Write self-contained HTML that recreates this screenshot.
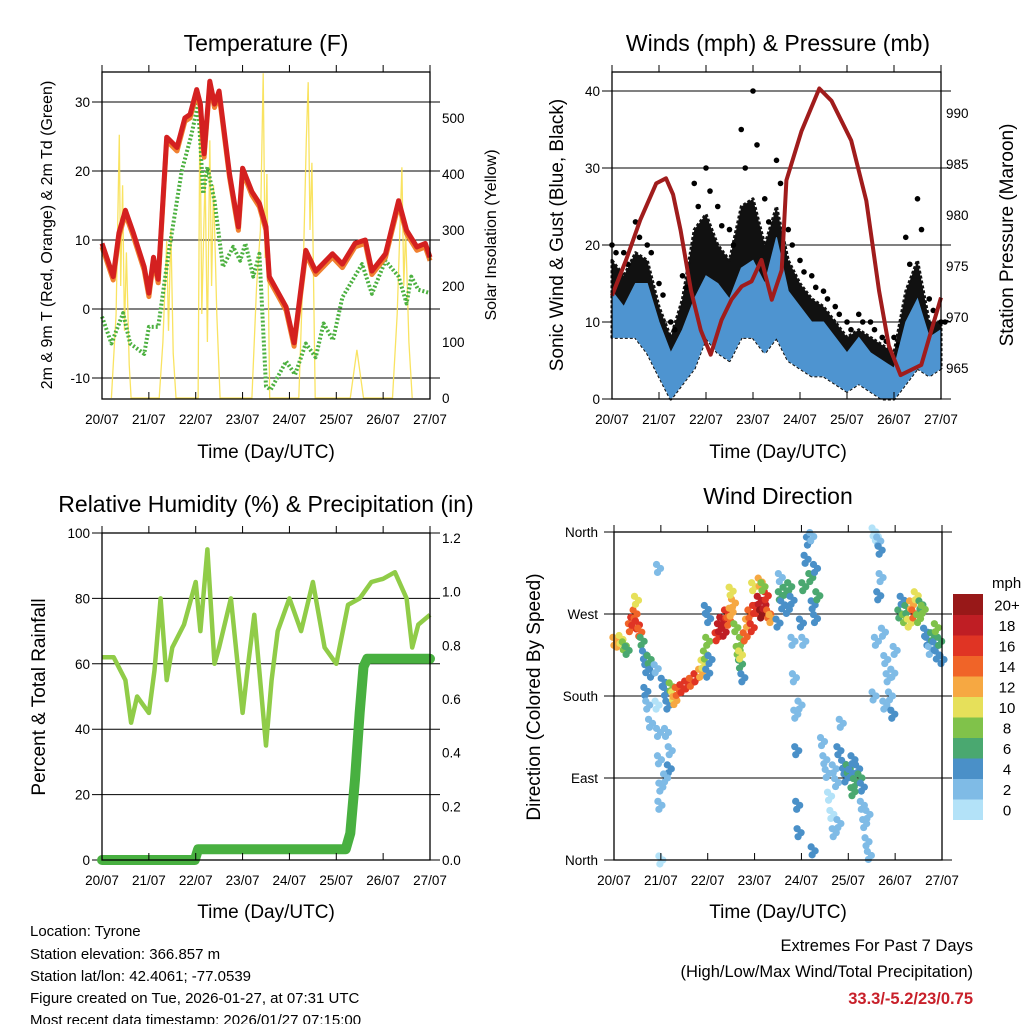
<!DOCTYPE html>
<html><head><meta charset="utf-8">
<style>
body{margin:0;background:#fff;}
svg{display:block;font-family:"Liberation Sans",Arial,sans-serif;}
.t{font-size:23px;text-anchor:middle;}
.al{font-size:19px;text-anchor:middle;}
.tk{font-size:13.5px;}
.info{font-size:15px;}
</style></head>
<body>
<svg id="s" width="1024" height="1024" viewBox="0 0 1024 1024">
<text class="t" x="266" y="51">Temperature (F)</text>
<text class="t" x="778" y="51">Winds (mph) &amp; Pressure (mb)</text>
<text class="t" x="266" y="512">Relative Humidity (%) &amp; Precipitation (in)</text>
<text class="t" x="778" y="504">Wind Direction</text>
<text class="al" x="266" y="458">Time (Day/UTC)</text>
<text class="al" x="778" y="458">Time (Day/UTC)</text>
<text class="al" x="266" y="918">Time (Day/UTC)</text>
<text class="al" x="778" y="918">Time (Day/UTC)</text>
<text class="al" style="font-size:16px" transform="translate(52,235) rotate(-90)">2m &amp; 9m T (Red, Orange) &amp; 2m Td (Green)</text>
<text class="al" style="font-size:16px" transform="translate(496,235) rotate(-90)">Solar Insolation (Yellow)</text>
<text class="al" transform="translate(563,235) rotate(-90)">Sonic Wind &amp; Gust (Blue, Black)</text>
<text class="al" transform="translate(1013,235) rotate(-90)">Station Pressure (Maroon)</text>
<text class="al" transform="translate(45,697) rotate(-90)">Percent &amp; Total Rainfall</text>
<text class="al" transform="translate(540,697) rotate(-90)">Direction (Colored By Speed)</text>
<g class="info">
<text x="30" y="936">Location: Tyrone</text>
<text x="30" y="959">Station elevation: 366.857 m</text>
<text x="30" y="981">Station lat/lon: 42.4061; -77.0539</text>
<text x="30" y="1003">Figure created on Tue, 2026-01-27, at 07:31 UTC</text>
<text x="30" y="1025">Most recent data timestamp: 2026/01/27 07:15:00</text>
</g>
<g style="font-size:16.5px;text-anchor:end">
<text x="973" y="951">Extremes For Past 7 Days</text>
<text x="973" y="977">(High/Low/Max Wind/Total Precipitation)</text>
<text x="973" y="1004" style="fill:#c8202a;font-weight:bold">33.3/-5.2/23/0.75</text>
</g>
</svg>
<script>
// ---------- DATA ----------
const dayLabels=["20/07","21/07","22/07","23/07","24/07","25/07","26/07","27/07"];
const tempTicks=[-10,0,10,20,30];
const solarTicks=[0,100,200,300,400,500];
const windTicks=[0,10,20,30,40];
const presTicks=[965,970,975,980,985,990];
const rhTicks=[0,20,40,60,80,100];
const rainTicks=[0,0.2,0.4,0.6,0.8,1.0,1.2];
const dirLabels=["North","East","South","West","North"];
const dirTicks=[0,90,180,270,360];
const speedLabels=["0","2","4","6","8","10","12","14","16","18","20+"];
const speedColors=["#b3e2f8","#7fbbe6","#4a90c8","#4aa870","#80c24a","#e6e05a","#f6a842","#f06428","#e03424","#bf1e24","#981818"];

const tempT=[0,0.24,0.36,0.5,0.67,0.9,1.0,1.1,1.2,1.38,1.6,1.77,1.88,2.02,2.1,2.18,2.3,2.4,2.5,2.72,2.91,3.0,3.2,3.36,3.5,3.57,3.93,4.1,4.35,4.56,4.92,5.13,5.4,5.62,5.76,6.05,6.33,6.5,6.72,6.9,7.0];
const tempV=[9.5,4.7,11,14.3,11,6.1,2.3,7.5,4.3,24.9,23.4,27.7,28.2,31.8,29.7,22.5,33,29.7,31.6,19.6,11.9,20.4,17,15.3,11.9,4.7,0.3,-4.9,8.5,5.5,8,6.5,9.5,10,5.5,8,15.7,11.4,9,9.5,7.5];
const dewT=[0,0.2,0.45,0.6,0.9,1.0,1.2,1.42,1.7,1.9,2.05,2.16,2.25,2.4,2.58,2.8,2.95,3.06,3.23,3.36,3.5,3.6,3.93,4.12,4.35,4.56,4.73,4.93,5.13,5.55,5.76,6.05,6.33,6.5,6.6,6.75,7.0];
const dewV=[-1.1,-5,-0.6,-5,-6.5,-2.6,-2.6,8,20,25,29.7,16.7,20.6,15.7,6.1,9,7,9.5,4.7,8,-11.2,-11.7,-7.6,-9.5,-5,-7,-2.1,-4.5,1.7,6.5,2.2,7,4.7,0.8,4.7,2.8,2.3];
const solarT=[0.2,0.3,0.37,0.4,0.44,0.48,0.52,0.58,0.62,1.22,1.3,1.38,1.42,1.47,1.52,1.58,2.05,2.09,2.13,2.2,2.25,2.3,2.34,2.38,2.45,2.52,3.2,3.3,3.38,3.44,3.48,3.52,3.58,4.2,4.3,4.36,4.4,4.44,4.48,4.55,5.3,5.44,5.58,6.2,6.3,6.4,6.44,6.48,6.55,6.62];
const solarV=[0,150,470,200,380,120,260,60,0,0,100,280,120,300,80,0,0,527,150,400,100,460,200,380,150,0,0,200,300,580,250,400,0,0,250,460,564,300,420,0,0,86,0,0,150,412,200,300,100,0];

const windT=[0,0.25,0.5,0.75,1,1.25,1.5,1.75,2,2.25,2.5,2.75,3,3.25,3.5,3.75,4,4.25,4.5,4.75,5,5.25,5.5,5.75,6,6.25,6.5,6.75,7];
const windHi=[14,12,15,15,10,6,9,13,16,15,13,17,18,15,21,14,12,10,10,8,6,8,6,5,4,10,13,8,9];
const windLo=[8,8,8,6,3,0,2,4,8,6,5,8,8,6,8,5,4,3,3,2,1,2,1,0,0,2,4,3,4];
const gustTyp=[18,16,19,18,12,8,13,22,24,20,18,25,26,20,25,18,15,13,12,10,8,9,8,7,6,14,18,10,10];
const gustV=[20,19,23,20,15,10,16,28,30,25,22,35,40,26,31,22,18,16,14,12,10,11,10,8,8,21,26,13,10];
const presT=[0,0.3,0.6,0.94,1.15,1.3,1.46,1.68,1.89,2.1,2.33,2.54,2.76,2.97,3.18,3.4,3.61,3.71,4.03,4.41,4.67,5.09,5.41,5.68,5.89,6.14,6.36,6.58,6.79,7.0];
const presV=[972.1,975.6,979.5,983.1,983.6,982,978.5,972.6,968.7,966.3,969.7,971.7,973,973.5,975.6,971.7,974.6,983.4,988.2,992.4,991.2,987.3,981.4,972.6,967.2,964.3,964.8,965.3,968.6,971.9];

const rhT=[0,0.25,0.5,0.62,0.75,1.0,1.12,1.25,1.38,1.5,1.75,2.0,2.1,2.25,2.4,2.5,2.75,3.0,3.12,3.25,3.5,3.62,3.75,4.0,4.25,4.5,4.75,5.0,5.25,5.5,5.75,6.0,6.25,6.5,6.62,6.75,7.0];
const rhV=[62,62,55,42,50,45,58,80,55,65,72,85,70,95,60,65,80,45,60,75,35,55,70,80,70,85,65,60,78,80,85,86,88,80,65,72,75];
const rainT=[0,1.98,2.05,5.2,5.3,5.4,5.5,5.58,5.66,7.0];
const rainV=[0,0,0.04,0.04,0.1,0.3,0.55,0.72,0.75,0.75];

const dirT=[0.02,0.08,0.15,0.22,0.28,0.35,0.4,0.45,0.5,0.55,0.48,0.6,0.65,0.7,0.75,0.8,0.68,0.72,0.78,0.9,0.92,0.95,0.97,1.0,0.98,0.95,1.0,1.05,1.1,1.15,1.12,1.2,1.18,1.1,1.22,1.27,1.3,1.35,1.45,1.55,1.65,1.75,1.85,1.9,1.95,2.0,2.05,2.0,2.02,1.97,2.2,2.25,2.3,2.35,2.4,2.45,2.5,2.55,2.5,2.6,2.65,2.7,2.72,2.75,2.7,2.8,2.85,2.9,2.95,3.0,2.98,3.05,3.1,3.15,3.2,3.25,3.3,3.35,3.12,3.18,3.5,3.55,3.6,3.65,3.7,3.75,3.8,3.55,3.82,3.85,3.88,3.9,3.92,3.95,3.97,4.0,4.05,4.1,4.15,4.2,4.25,4.3,4.35,4.05,4.3,4.25,4.22,4.45,4.5,4.55,4.6,4.65,4.7,4.75,4.8,4.85,4.9,4.95,5.0,4.8,4.7,5.05,5.1,5.15,5.2,5.25,5.3,5.1,5.3,5.35,5.4,5.45,5.42,5.55,5.6,5.65,5.68,5.55,5.6,5.65,5.7,5.75,5.8,5.85,5.9,5.95,6.0,5.78,5.95,6.1,6.15,6.2,6.25,6.3,6.35,6.4,6.45,6.5,6.55,6.6,6.65,6.7,6.75,6.8,6.85,6.9,6.95,7.0,6.88];
const dirV=[240,238,242,235,230,255,262,270,258,250,285,240,225,210,220,205,185,170,150,210,170,140,110,80,60,320,0,195,185,170,140,120,100,90,190,180,175,185,188,192,195,200,205,215,225,205,220,240,265,275,245,255,262,250,270,262,272,282,295,255,230,215,240,200,225,245,260,270,255,275,300,275,285,270,280,290,270,265,305,300,260,290,280,295,275,300,285,310,240,200,160,120,60,30,170,260,300,330,350,310,280,320,290,240,265,10,355,130,110,95,70,50,100,85,120,150,105,90,100,40,30,95,110,85,100,90,80,75,60,40,20,5,50,360,355,350,340,180,240,290,310,250,220,200,180,205,230,170,160,270,285,265,275,260,280,270,290,265,280,275,250,240,230,245,235,225,240,220,255];
const dirS=[12,11,10,8,6,14,16,13,15,14,10,6,4,4,6,4,3,2,2,2,0,2,2,2,1,1,0,4,4,3,2,2,3,2,8,10,12,14,16,16,14,16,12,10,8,4,4,8,4,4,16,18,18,18,16,14,12,12,10,8,8,6,8,4,10,14,12,14,16,16,10,16,18,20,18,16,14,12,12,8,4,6,4,6,4,6,4,2,2,2,2,4,4,4,2,4,6,4,4,6,4,4,6,2,4,4,2,2,2,2,0,0,2,2,4,2,4,4,6,2,1,4,4,6,4,6,4,6,2,2,2,2,2,0,0,2,4,2,2,4,2,2,2,2,2,2,2,2,4,6,4,8,6,10,12,14,10,8,6,8,4,4,2,6,4,4,6,4,8];

// ---------- RENDER ----------
const NS="http://www.w3.org/2000/svg";
const svg=document.getElementById('s');
function mk(tag,attrs,parent){const e=document.createElementNS(NS,tag);for(const k in attrs)e.setAttribute(k,attrs[k]);(parent||svg).appendChild(e);return e;}
function lin(d0,d1,r0,r1){return v=>r0+(v-d0)*(r1-r0)/(d1-d0);}

function frame(name){
  const g=mk('g',{});
  
  
  return g;
}
function border(g,L,T,R,B){mk('rect',{x:L,y:T,width:R-L,height:B-T,fill:'none',stroke:'#000','stroke-width':1.3},g);}
function xAxis(g,L,R,B,T){
  const x=lin(0,7,L,R);
  dayLabels.forEach((lab,i)=>{
    const xx=x(i);
    mk('line',{x1:xx,y1:B,x2:xx,y2:B-7,stroke:'#000'},g);
    mk('line',{x1:xx,y1:T,x2:xx,y2:T-7,stroke:'#000'},g);
    const t=mk('text',{x:xx,y:B+25,class:'tk','text-anchor':'middle'},g);t.textContent=lab;
    
    
  });
  return x;
}
function grid(g,L,R,ys){ys.forEach(yy=>mk('line',{x1:L-10,y1:yy,x2:R+10,y2:yy,stroke:'#000','stroke-width':1},g));}
function yLabels(g,xx,ys,labs,anchor,name){ys.forEach((yy,i)=>{const t=mk('text',{x:xx,y:yy+5,class:'tk','text-anchor':anchor},g);t.textContent=labs[i];
  
  });}
function pts(xs,ys,fx,fy){return xs.map((v,i)=>fx(v).toFixed(1)+','+fy(ys[i]).toFixed(1)).join(' ');}

// Panel 1 Temperature
{const L=102,T=72,R=430,B=399;const g=frame('temperature-chart');
 const x=lin(0,7,L,R), y=lin(0,30,309,102), ys=lin(0,500,398,118);
 grid(g,L,R,tempTicks.map(y));
 yLabels(g,L-12,tempTicks.map(y),tempTicks,'end','temp-tick-label');
 yLabels(g,R+12,solarTicks.map(ys),solarTicks,'start','solar-tick-label');
 const so=mk('polyline',{points:pts(solarT,solarV,x,ys),fill:'none',stroke:'#f8e050','stroke-width':1.3,opacity:0.9},g);
 
 const dw=mk('polyline',{points:pts(dewT,dewV,x,y),fill:'none',stroke:'#4cb040','stroke-width':4,'stroke-dasharray':'2 2','stroke-linejoin':'round'},g);
 
 const o=mk('polyline',{points:pts(tempT,tempV.map(v=>v-0.5),x,y),fill:'none',stroke:'#f08030','stroke-width':5,'stroke-linejoin':'round'},g);
 
 const r=mk('polyline',{points:pts(tempT,tempV,x,y),fill:'none',stroke:'#d42020','stroke-width':5,'stroke-linejoin':'round'},g);
 
 border(g,L,T,R,B);xAxis(g,L,R,B,T);}

// Panel 2 Winds
{const L=612,T=72,R=941,B=399;const g=frame('winds-chart');
 const x=lin(0,7,L,R), y=lin(0,40,399,91), yp=lin(965,990,368,113);
 grid(g,L,R,windTicks.map(y));
 yLabels(g,L-12,windTicks.map(y),windTicks,'end','wind-tick-label');
 yLabels(g,R+5,presTicks.map(yp),presTicks,'start','pressure-tick-label');
 const gp=pts(windT,gustTyp,x,y)+' '+pts(windT.slice().reverse(),windLo.slice().reverse(),x,y);
 const gb=mk('polygon',{points:gp,fill:'#111',stroke:'#111','stroke-width':3,'stroke-linejoin':'round','stroke-dasharray':'3 2'},g);
 
 windT.forEach((t,i)=>{
   const c=mk('circle',{cx:x(t),cy:y(gustV[i]),r:2.8,fill:'#000'},g);
   
   const c2=mk('circle',{cx:x(t)+4,cy:y((gustV[i]+gustTyp[i])/2),r:2.8,fill:'#000'},g);
   });
 const bp=pts(windT,windHi,x,y)+' '+pts(windT.slice().reverse(),windLo.slice().reverse(),x,y);
 const bb=mk('polygon',{points:bp,fill:'#4e94d0',stroke:'#4e94d0','stroke-width':1},g);
 
 const p=mk('polyline',{points:pts(presT,presV,x,yp),fill:'none',stroke:'#a01c1c','stroke-width':4,'stroke-linejoin':'round'},g);
 
 border(g,L,T,R,B);xAxis(g,L,R,B,T);}

// Panel 3 Humidity
{const L=102,T=533,R=430,B=860;const g=frame('humidity-chart');
 const x=lin(0,7,L,R), y=lin(0,100,860,533), yr=lin(0,1.2,860,538);
 grid(g,L,R,rhTicks.map(y));
 yLabels(g,L-12,rhTicks.map(y),rhTicks,'end','rh-tick-label');
 yLabels(g,R+12,rainTicks.map(yr),rainTicks.map(v=>v.toFixed(1)),'start','rain-tick-label');
 const h=mk('polyline',{points:pts(rhT,rhV,x,y),fill:'none',stroke:'#90cc48','stroke-width':4.5,'stroke-linejoin':'round'},g);
 
 const rn=mk('polyline',{points:pts(rainT,rainV,x,yr),fill:'none',stroke:'#48b040','stroke-width':10,'stroke-linejoin':'round','stroke-linecap':'round'},g);
 
 border(g,L,T,R,B);xAxis(g,L,R,B,T);}

// Panel 4 Direction
{const L=614,T=532,R=942,B=860;const g=frame('wind-direction-chart');
 const x=lin(0,7,L,R), y=lin(0,360,860,532);
 grid(g,L,R,dirTicks.map(y));
 yLabels(g,L-16,dirTicks.map(y),dirLabels,'end','direction-tick-label');
 dirT.forEach((t,i)=>{const ci=Math.min(10,Math.round(dirS[i]/2));
   [[-2,-4],[2,0],[-1,4]].forEach(o=>{const c=mk('circle',{cx:x(t)+o[0],cy:y(dirV[i])+o[1],r:3.6,fill:speedColors[ci]},g);
   });});
 border(g,L,T,R,B);xAxis(g,L,R,B,T);
 const lg=mk('g',{});
 
 const h=20.5, top=594;
 speedColors.forEach((c,i)=>{const yy=top+(10-i)*h;
   const r=mk('rect',{x:953,y:yy,width:30,height:h+0.5,fill:c},lg);
   
   const t=mk('text',{x:1007,y:yy+h/2+6,'text-anchor':'middle',style:'font-size:15px'},lg);t.textContent=speedLabels[i];
   });
 const u=mk('text',{x:992,y:588,style:'font-size:15px'},lg);u.textContent='mph';
 
}
</script>
</body></html>
